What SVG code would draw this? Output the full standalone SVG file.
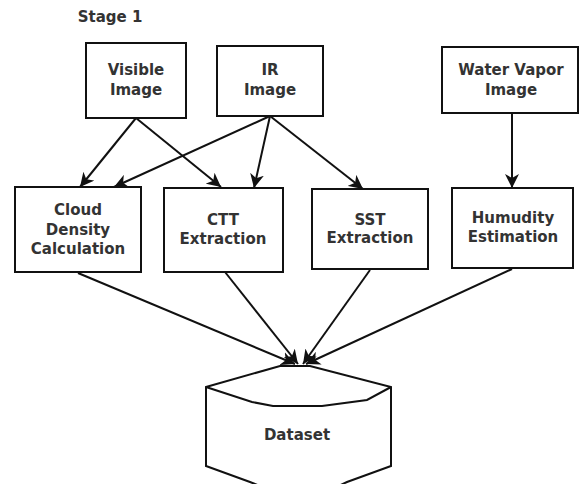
<svg xmlns="http://www.w3.org/2000/svg" width="581" height="484" viewBox="0 0 581 484">
<style>
.box{fill:#fff;stroke:#111;stroke-width:2}
.t{font-family:"DejaVu Sans",sans-serif;font-weight:bold;font-size:15px;fill:#333;text-anchor:middle}
.c{fill:none;stroke:#111;stroke-width:2}
</style>
<defs>
<marker id="ah" markerUnits="userSpaceOnUse" markerWidth="16" markerHeight="14" refX="14" refY="7" orient="auto">
<path d="M0,0 L14,7 L0,14 L4,7 z" fill="#111"/>
</marker>
</defs>
<rect width="581" height="484" fill="#fff"/>
<text x="110" y="22" class="t">Stage 1</text>
<g id="connectors">
<line class="c" x1="136" y1="118" x2="80" y2="187" marker-end="url(#ah)"/>
<line class="c" x1="136" y1="118" x2="221" y2="187" marker-end="url(#ah)"/>
<line class="c" x1="270" y1="116" x2="114" y2="187" marker-end="url(#ah)"/>
<line class="c" x1="270" y1="116" x2="254" y2="188" marker-end="url(#ah)"/>
<line class="c" x1="270" y1="116" x2="363" y2="189" marker-end="url(#ah)"/>
<line class="c" x1="512" y1="113" x2="512" y2="188" marker-end="url(#ah)"/>
<line class="c" x1="78" y1="273" x2="295" y2="364" marker-end="url(#ah)"/>
<line class="c" x1="225" y1="272" x2="298" y2="364" marker-end="url(#ah)"/>
<line class="c" x1="370" y1="270" x2="303" y2="364" marker-end="url(#ah)"/>
<line class="c" x1="512" y1="269" x2="306" y2="364" marker-end="url(#ah)"/>
</g>
<g id="visible"><rect class="box" x="86" y="43" width="100" height="75"/><text class="t" x="136" y="75">Visible</text><text class="t" x="136" y="95">Image</text></g>
<g id="ir"><rect class="box" x="217" y="46" width="106" height="70"/><text class="t" x="270" y="75">IR</text><text class="t" x="270" y="95">Image</text></g>
<g id="watervapor"><rect class="box" x="442" y="47" width="136" height="66"/><text class="t" x="511" y="75">Water Vapor</text><text class="t" x="511" y="95">Image</text></g>
<g id="cloud"><rect class="box" x="15" y="187" width="126" height="85"/><text class="t" x="78" y="215">Cloud</text><text class="t" x="78" y="235">Density</text><text class="t" x="78" y="254">Calculation</text></g>
<g id="ctt"><rect class="box" x="164" y="188" width="119" height="84"/><text class="t" x="223" y="225">CTT</text><text class="t" x="223" y="244">Extraction</text></g>
<g id="sst"><rect class="box" x="312" y="189" width="116" height="80"/><text class="t" x="370" y="225">SST</text><text class="t" x="370" y="243">Extraction</text></g>
<g id="humidity"><rect class="box" x="452" y="188" width="121" height="80"/><text class="t" x="513" y="223">Humudity</text><text class="t" x="513" y="242">Estimation</text></g>
<g id="dataset">
<path class="box" d="M206,387 L280,366 L310,366 L391,387 L391,466 L347,482 L330,490 L270,490 L250,482 L206,466 Z"/>
<path class="c" d="M206,387 L252,402 L273,406 L322,406 L367,400 L391,387"/>
<text class="t" x="297" y="440">Dataset</text>
</g>
</svg>
